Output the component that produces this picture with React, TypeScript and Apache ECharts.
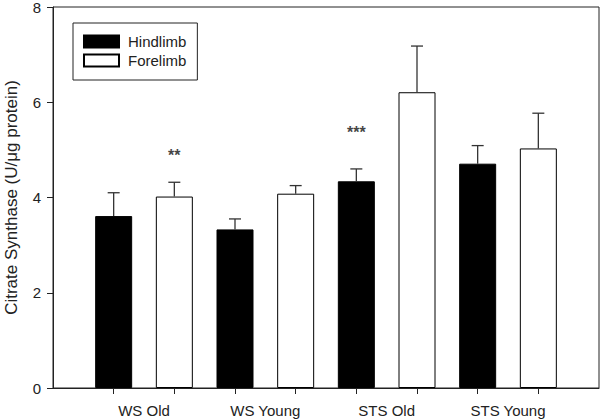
import React, { useEffect, useRef } from "react";
import * as echarts from "echarts";

const groups = ["WS Old", "WS Young", "STS Old", "STS Young"];
const hindlimbMean = [3.61, 3.33, 4.34, 4.71];
const hindlimbUpper = [4.1, 3.55, 4.6, 5.09];
const forelimbMean = [4.02, 4.08, 6.21, 5.03];
const forelimbUpper = [4.32, 4.25, 7.18, 5.77];
const hindlimbPos = [1, 3, 5, 7];
const forelimbPos = [2, 4, 6, 8];
const groupCenters = [1.5, 3.5, 5.5, 7.5];
const yTicks = [0, 2, 4, 6, 8];
const sigPos = [2, 5];
const sigY = [4.88, 5.36];
const sigText = ["**", "***"];

const FONT = "'Liberation Sans', Arial, sans-serif";

export default function App() {
  const ref = useRef<HTMLDivElement>(null);
  useEffect(() => {
    document.body.style.margin = "0";
    const chart = echarts.init(ref.current!, null, { renderer: "svg" });
    const errData: number[][] = [];
    hindlimbPos.forEach((x, i) => errData.push([x, hindlimbMean[i], hindlimbUpper[i]]));
    forelimbPos.forEach((x, i) => errData.push([x, forelimbMean[i], forelimbUpper[i]]));

    chart.setOption({
      animation: false,
      textStyle: { fontFamily: FONT },
      grid: {
        left: 53,
        right: 1,
        top: 7,
        bottom: 31,
        show: true,
        borderColor: "#222",
        borderWidth: 1,
        outerBoundsMode: "none",
      } as any,
      legend: {
        data: ["Hindlimb", "Forelimb"],
        orient: "vertical",
        left: 73,
        top: 23,
        padding: [11, 11, 12, 10],
        borderColor: "#222",
        borderWidth: 1,
        icon: "rect",
        itemWidth: 35,
        itemHeight: 12,
        itemGap: 4,
        textStyle: { fontSize: 15, color: "#222", fontFamily: FONT, padding: [0, 0, 0, 4], lineHeight: 15 },
      },
      xAxis: {
        type: "value",
        min: 0,
        max: 9,
        splitLine: { show: false },
        axisLine: { lineStyle: { color: "#222", width: 1 } },
        axisTick: {
          show: true,
          length: 6,
          customValues: [...hindlimbPos, ...forelimbPos].sort((a, b) => a - b),
          lineStyle: { color: "#222" },
        },
        axisLabel: {
          customValues: groupCenters,
          formatter: (v: number) => groups[groupCenters.indexOf(v)] ?? "",
          fontSize: 15,
          color: "#222",
          margin: 15,
          fontFamily: FONT,
        },
      } as any,
      yAxis: {
        type: "value",
        min: 0,
        max: 8,
        interval: 2,
        splitLine: { show: false },
        axisLine: { show: true, lineStyle: { color: "#222", width: 1 } },
        axisTick: { show: true, length: 6, lineStyle: { color: "#222" } },
        axisLabel: { fontSize: 15, lineHeight: 12, color: "#222", margin: 12, fontFamily: FONT,
          formatter: (v: number) => (yTicks.includes(v) ? String(v) : "") },
        name: "Citrate Synthase (U/\u03bcg protein)",
        nameLocation: "middle",
        nameGap: 33,
        nameTextStyle: { fontSize: 17, color: "#222", fontFamily: FONT },
      },
      series: [
        {
          name: "Hindlimb",
          type: "bar",
          barWidth: 37,
          barGap: "-100%",
          data: hindlimbPos.map((x, i) => [x, hindlimbMean[i]]),
          itemStyle: { color: "#000", borderColor: "#000", borderWidth: 1 },
        },
        {
          name: "Forelimb",
          type: "bar",
          barWidth: 37,
          barGap: "-100%",
          data: forelimbPos.map((x, i) => [x, forelimbMean[i]]),
          itemStyle: { color: "#fff", borderColor: "#000", borderWidth: 1 },
        },
        {
          type: "custom",
          name: "err",
          data: errData,
          z: 5,
          renderItem: (_p: any, api: any) => {
            const x = api.value(0);
            const top = api.coord([x, api.value(1)]);
            const up = api.coord([x, api.value(2)]);
            const half = 6;
            const st = { stroke: "#333", lineWidth: 1.3 };
            return {
              type: "group",
              children: [
                { type: "line", shape: { x1: top[0], y1: top[1], x2: up[0], y2: up[1] }, style: st },
                { type: "line", shape: { x1: up[0] - half, y1: up[1], x2: up[0] + half, y2: up[1] }, style: st },
              ],
            };
          },
        },
        {
          type: "scatter",
          name: "sig",
          symbolSize: 0,
          data: sigPos.map((x, i) => [x, sigY[i], sigText[i]]),
          label: {
            show: true,
            position: "inside",
            formatter: (p: any) => p.value[2],
            fontSize: 16,
            fontWeight: "bold",
            color: "#111",
            fontFamily: FONT,
          },
        },
      ],
    });
    return () => chart.dispose();
  }, []);
  return <div ref={ref} style={{ width: 600, height: 419, position: "absolute", left: 0, top: 0 }} />;
}
